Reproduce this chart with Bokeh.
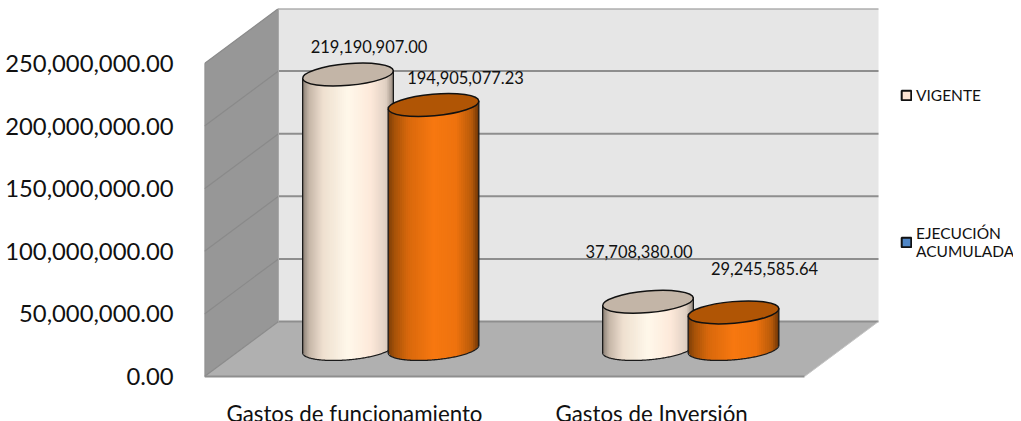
import numpy as np
from bokeh.plotting import figure
from bokeh.embed import file_html
from bokeh.resources import INLINE
from bokeh.core.properties import value
from bokeh.models import Range1d, FixedTicker, Legend, LegendItem, NumeralTickFormatter

categories = ["Gastos de funcionamiento", "Gastos de  Inversión"]
vigente = [219190907.00, 37708380.00]
ejecucion = [194905077.23, 29245585.64]
series_names = ["VIGENTE", "EJECUCIÓN\nACUMULADA"]
y_ticks = [0, 50000000, 100000000, 150000000, 200000000, 250000000]

FONT = "Lato"
PX = 250e6 / 313          # value per screen pixel
X0, X1 = 204, 804         # front edge of the floor
DX, DY = 74, 55           # 3D depth in pixels
CAT_W = (X1 - X0) / len(categories)
cat_x = [X0 + CAT_W * (i + 0.5) for i in range(len(categories))]

p = figure(frame_width=809, frame_height=382, output_backend="svg", toolbar_location=None,
           x_range=Range1d(X0, 1013), y_range=Range1d(-14 * PX, 368 * PX),
           min_border_left=204, min_border_right=0, min_border_top=8, min_border_bottom=20,
           outline_line_color=None, background_fill_color=None, border_fill_color="white")
p.grid.visible = False

ax = p.yaxis[0]
ax.ticker = FixedTicker(ticks=y_ticks)
ax.formatter = NumeralTickFormatter(format="0,0.00")
ax.major_label_text_font = FONT
ax.major_label_text_font_size = "23.8px"
ax.major_label_text_color = "#111111"
ax.axis_line_color = None
ax.major_tick_line_color = None
ax.minor_tick_line_color = None
ax.major_label_standoff = 25

xa = p.xaxis[0]
xa.ticker = FixedTicker(ticks=cat_x)
xa.major_label_overrides = {c: n for c, n in zip(cat_x, categories)}
xa.major_label_text_font = FONT
xa.major_label_text_font_size = "22.3px"
xa.major_label_text_color = "#111111"
xa.axis_line_color = None
xa.major_tick_line_color = None
xa.minor_tick_line_color = None
xa.major_label_standoff = 3

# walls and floor
dv = DY * PX
top = y_ticks[-1]
p.patch([X0 + DX, 878, 878, X0 + DX], [dv, dv, top + dv, top + dv], fill_color="#e6e6e6", line_color=None)
p.patch([X0, X0 + DX, X0 + DX, X0], [top, top + dv, dv, 0], fill_color="#979797", line_color=None)
p.patch([X0, X0 + DX, 878, X1], [0, dv, dv, 0], fill_color="#b0b0b0", line_color=None)
for t in y_ticks:
    p.line([X0 + DX, 878], [t + dv, t + dv], line_color="#8e8e8e", line_width=2)
    p.line([X0, X0 + DX], [t, t + dv], line_color="#8a8a8a", line_width=1.2)
p.line([X0, X0], [0, top], line_color="#8a8a8a", line_width=1.5)
p.line([X0 + DX, X0 + DX], [dv, top + dv], line_color="#a8a8a8", line_width=1)
p.line([X0, X1], [0, 0], line_color="#8e8e8e", line_width=2)
p.line([X1, 878], [0, dv], line_color="#c4c4c4", line_width=1)

# cylinders
A, B, TILT = 45.5, 10.8, np.radians(5.0)
BASE = 27.5 * PX
R = np.hypot(A * np.cos(TILT), B * np.sin(TILT))
tt = np.linspace(np.pi, 2 * np.pi, 121)
arc_x = A * np.cos(tt) * np.cos(TILT) - B * np.sin(tt) * np.sin(TILT)
arc_y = A * np.cos(tt) * np.sin(TILT) + B * np.sin(tt) * np.cos(TILT)
order = np.argsort(arc_x)
arc_xs, arc_ys = arc_x[order], arc_y[order]

stops = np.array([0.0, 0.07, 0.22, 0.5, 0.75, 0.92, 1.0])
cream = [(0x8a, 0x7f, 0x74), (0xc4, 0xb5, 0xa7), (0xee, 0xdf, 0xcf), (0xff, 0xf8, 0xea), (0xfd, 0xe9, 0xda), (0xe0, 0xd0, 0xc2), (0x95, 0x89, 0x7e)]
orange = [(0x7a, 0x3d, 0x08), (0xa6, 0x52, 0x08), (0xd8, 0x68, 0x0c), (0xf7, 0x78, 0x10), (0xee, 0x72, 0x0e), (0xb8, 0x5a, 0x0a), (0x6a, 0x34, 0x06)]


def grad(colors, f):
    c = np.array(colors, dtype=float)
    return "#%02x%02x%02x" % tuple(int(round(np.interp(f, stops, c[:, k]))) for k in range(3))


def cylinder(cx, val, colors, cap):
    cy = val + BASE
    n = 46
    edges = np.linspace(-R, R, n + 1)
    xs, ys, fills = [], [], []
    for j in range(n):
        a, b = edges[j], edges[min(j + 2, n)]
        xs.append([cx + a, cx + b, cx + b, cx + a])
        ys.append([BASE + np.interp(a, arc_xs, arc_ys) * PX, BASE + np.interp(b, arc_xs, arc_ys) * PX,
                   cy + b * np.tan(TILT) * PX, cy + a * np.tan(TILT) * PX])
        fills.append(grad(colors, (j + 0.5) / n))
    p.patches(xs, ys, fill_color=fills, line_color=None)
    ox = np.concatenate([[cx - R], cx + arc_xs, [cx + R]])
    oy = np.concatenate([[cy - R * np.tan(TILT) * PX], BASE + arc_ys * PX, [cy + R * np.tan(TILT) * PX]])
    p.line(ox, oy, line_color="#1a1a1a", line_width=1.3)
    p.ellipse([cx], [cy], width=2 * A, height=2 * B, angle=TILT, width_units="screen", height_units="screen",
              fill_color=cap, line_color="#111111", line_width=1.5)


SERIES_DX = [-6.5, 79]
for i in range(len(categories)):
    cylinder(cat_x[i] + SERIES_DX[0], vigente[i], cream, "#c3b5a7")
    cylinder(cat_x[i] + SERIES_DX[1], ejecucion[i], orange, "#b05505")

# data labels
lab_dx = [[21, 32], [-9, 31]]
lab_dy = [[28, 27], [50, 44]]
for i in range(len(categories)):
    for s, vals in enumerate((vigente, ejecucion)):
        p.text([cat_x[i] + SERIES_DX[s]], [vals[i] + BASE], text=[f"{vals[i]:,.2f}"],
               x_offset=lab_dx[i][s], y_offset=-lab_dy[i][s],
               text_align="center", text_baseline="middle", text_font=value(FONT),
               text_font_size="16.5px", text_color="#111111")

# legend
n1 = p.quad(left=[np.nan], right=[np.nan], top=[np.nan], bottom=[np.nan], fill_color="#fde4d3", line_color="#111111", line_width=2)
n2 = p.quad(left=[np.nan], right=[np.nan], top=[np.nan], bottom=[np.nan], fill_color="#4f86c6", line_color="#111111", line_width=2)
legend = Legend(items=[LegendItem(label=series_names[0], renderers=[n1]), LegendItem(label=series_names[1], renderers=[n2])],
                location=(696, 130), orientation="vertical", spacing=120, padding=0, margin=0,
                glyph_width=12, glyph_height=12, label_standoff=4,
                label_text_font=FONT, label_text_font_size="15.5px", label_text_color="#111111",
                label_text_line_height=1.5,
                background_fill_alpha=0, border_line_color=None)
p.add_layout(legend, "center")

open("out.html", "w").write(file_html(p, INLINE))
